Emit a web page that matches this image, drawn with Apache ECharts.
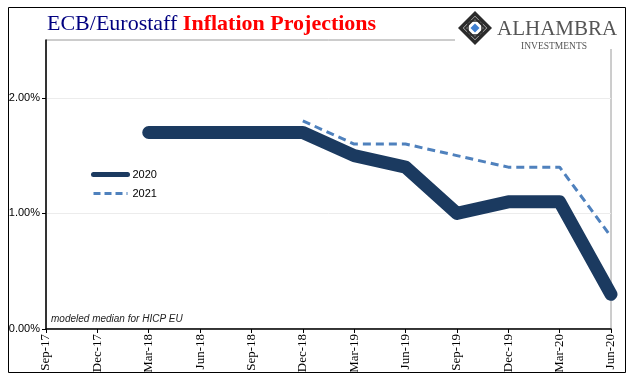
<!DOCTYPE html>
<html><head><meta charset="utf-8">
<script src="https://cdn.jsdelivr.net/npm/echarts@6/dist/echarts.min.js"></script>
<style>html,body{margin:0;padding:0;background:#fff}#c{width:641px;height:381px}</style>
</head><body><div id="c"></div>
<script>
const categories = ['Sep-17','Dec-17','Mar-18','Jun-18','Sep-18','Dec-18','Mar-19','Jun-19','Sep-19','Dec-19','Mar-20','Jun-20'];
const proj2020 = [null,null,1.7,1.7,1.7,1.7,1.5,1.4,1.0,1.1,1.1,0.3];
const proj2021 = [null,null,null,null,null,1.8,1.6,1.6,1.5,1.4,1.4,0.8];
const yTicks = [0,1,2];
const seriesNames = ['2020','2021'];

const chart = echarts.init(document.getElementById('c'), null, {renderer:'canvas'});
const navy = '#1b3a60', blue = '#4f81bd';
chart.setOption({
  animation:false,
  backgroundColor:'#fff',
  title:{
    text:'{a|ECB/Eurostaff }{b|Inflation Projections}',
    left:42, top:8,
    textStyle:{fontWeight:'normal', rich:{
      a:{fontFamily:'Liberation Serif', fontSize:22, fontWeight:'normal', color:'#000080'},
      b:{fontFamily:'Liberation Serif', fontSize:22, fontWeight:'bold', color:'#ff0000'}
    }}
  },
  legend:{
    orient:'vertical', left:86, top:164, itemWidth:34, itemHeight:12, itemGap:8,
    textStyle:{fontFamily:'Liberation Sans', fontSize:11, color:'#000'},
    data:[
      {name:seriesNames[0], lineStyle:{width:5, cap:'round'}, itemStyle:{opacity:0}},
      {name:seriesNames[1], lineStyle:{width:3, type:[7,4]}, itemStyle:{opacity:0}}
    ]
  },
  grid:{left:46, right:30, top:40, bottom:52, show:true, borderColor:'#9a9a9a', borderWidth:1},
  xAxis:{
    type:'category', data:categories, boundaryGap:false,
    axisLine:{lineStyle:{color:'#000', width:1.5}},
    axisTick:{show:true, length:4, lineStyle:{color:'#000'}},
    axisLabel:{rotate:90, fontFamily:'Liberation Serif', fontSize:13, color:'#000', margin:5, interval:0},
    splitLine:{show:false}
  },
  yAxis:{
    type:'value', min:0, max:2.5, interval:0.5,
    axisLine:{show:true, lineStyle:{color:'#000', width:1.5}},
    axisTick:{show:true, length:4, customValues:yTicks, lineStyle:{color:'#000'}},
    axisLabel:{customValues:yTicks, formatter:v=>v.toFixed(2)+'%', fontFamily:'Liberation Sans', fontSize:11, color:'#000', margin:6},
    splitLine:{show:true, customValues:yTicks, lineStyle:{color:'#ececec', width:1}}
  },
  series:[
    {name:seriesNames[0], type:'line', data:proj2020, symbol:'none', clip:true,
     lineStyle:{color:navy, width:13, cap:'round', join:'round'}, itemStyle:{color:navy}},
    {name:seriesNames[1], type:'line', data:proj2021, symbol:'none', clip:true,
     lineStyle:{color:blue, width:3, type:[8,5]}, itemStyle:{color:blue}}
  ],
  graphic:[
    {type:'rect', shape:{x:8.5,y:7.5,width:617,height:365}, style:{fill:'none', stroke:'#000', lineWidth:1}, z:100, silent:true},
    {type:'text', left:51, top:314, style:{text:'modeled median for HICP EU', font:'italic 10px "Liberation Sans"', fill:'#222'}, z:100},
    {type:'rect', shape:{x:455,y:9,width:165,height:40}, style:{fill:'#fff'}, z:50},
    {type:'polygon', z:60, shape:{points:[[475,11],[492,28],[475,45],[458,28]]}, style:{fill:'#2b2b2b'}},
    {type:'polygon', z:61, shape:{points:[[475,16],[487,28],[475,40],[463,28]]}, style:{fill:'#fff'}},
    {type:'polygon', z:62, shape:{points:[[475,18],[485,28],[475,38],[465,28]]}, style:{fill:'none', stroke:'#2b2b2b', lineWidth:2}},
    {type:'rect', z:62, shape:{x:468,y:21,width:14,height:14}, style:{fill:'none', stroke:'#2b2b2b', lineWidth:1.5}},
    {type:'polygon', z:63, shape:{points:[[475,23.5],[479.5,28],[475,32.5],[470.5,28]]}, style:{fill:'#3f7fd0'}},
    {type:'text', x:497, y:19, z:60, style:{text:'ALHAMBRA', font:'21px "Liberation Serif"', fill:'#555'}},
    {type:'text', x:521, y:41, z:60, style:{text:'INVESTMENTS', font:'9.5px "Liberation Serif"', fill:'#555'}}
  ]
});
</script></body></html>
